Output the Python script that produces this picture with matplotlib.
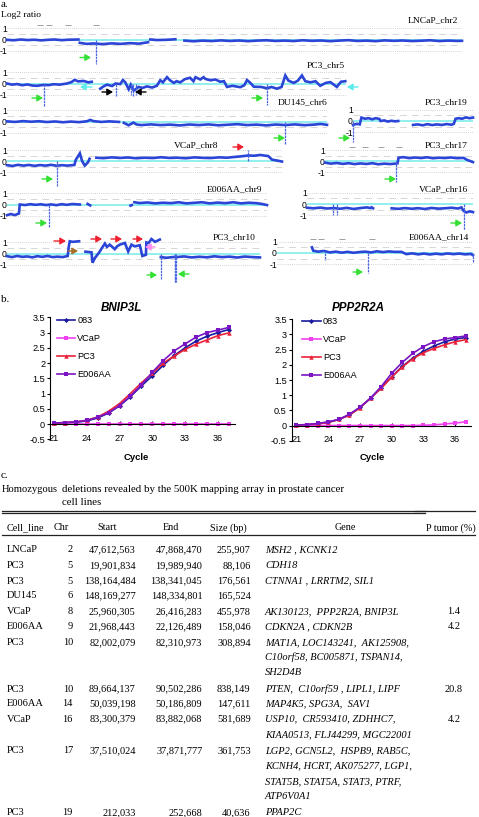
import numpy as np
import matplotlib
matplotlib.use('Agg')
import matplotlib.pyplot as plt

W, H = 479, 817

# a. copy number tracks, x = % along the plotted chromosome, None = gap
chr2_x = [0,1.5,3,4.5,6,7.5,9,10.5,12,13.5,15.7,None,16,17.5,19,21,23,25,27,29,31,None,31.5,33,35,37,None,39,41,43,45,47,49,51,53,55,57,59,61,63,65,67,69,71,73,75,77,79,81,83,85,87,89,91,93,95,97,99,100]
chr2_y = [-.03,-.07,0,-.05,-.02,-.08,-.03,0,-.06,-.02,0,None,-.3,-.4,-.36,-.42,-.35,-.4,-.33,-.38,-.25,None,0,-.05,-.03,.02,None,-.1,-.16,-.1,-.14,-.08,-.13,-.09,-.15,-.1,-.07,-.13,-.1,-.14,-.07,-.12,-.09,-.15,-.1,-.06,-.13,-.1,-.15,-.08,-.12,-.09,-.14,-.11,-.07,-.14,-.1,-.13,-.12]
chr2_spike_x = [19.5]
chr2_spike_y = [-2.2]
chr2_cnv_x = [7.2,9.3,13.4,19.5]

chr5_x = [0,1.5,3,4.5,6,7.5,8.9,10.8,12.3,13.8,15.5,17.7,19,20,21,22.6,24,25,None,27.5,28.5,29.5,31,32,33.4,34.2,34.9,35.9,36.5,37.4,38.8,40,41.3,42.8,44.2,45.2,46,47.2,48,49.2,50,51.1,52.5,54,55,55.6,57,58,58.5,60,61.5,62.9,64,64.9,66.5,68.8,70,70.8,71.8,72.8,75,76.7,78,79.6,81,82.1,83,84.6,85.8,87,88,89.5,91,92.4,94,95.4,96.4,97.3,98.5,99.8]
chr5_y = [0,-.1,-.05,-.15,-.08,-.18,-.2,-.12,-.14,-.06,-.1,0,.12,.32,.18,.22,.1,.15,None,-.45,-.25,-.1,-.22,0,-.05,.3,.1,-.5,-.1,-.62,-.3,-.38,-.25,-.35,-.2,.28,.1,.55,.3,.05,.2,.1,.38,.5,.2,.55,.35,.55,.4,.28,.35,.15,.2,-.3,-.2,-.32,-.15,.3,.05,-.28,-.3,-.42,-.3,-.45,-.3,.7,.25,.05,.25,.7,.2,.1,.2,-.2,.05,.12,-.1,-.3,.15,.2]
chr5_spike_x = [10.8,32.3,36.5,37.2,38,76.7]
chr5_spike_y = [-2,-1.1,-1,-1.1,-1,-1.9]

chr6_x = [0,2.5,5,7.5,10,12.5,15,17.5,20,22.5,25,26,27,29.5,32,35,None,36.5,38,39.5,40.5,42,45,48,51,54,57,60,63,66,69,72,75,78,81,84,87,90,93,96,98,100]
chr6_y = [.03,-.02,.05,0,.04,-.03,.02,-.05,.01,-.04,.04,.16,.05,-.02,.03,-.02,None,-.1,-.32,-.08,-.25,-.3,-.24,-.3,-.26,-.33,-.25,-.3,-.24,-.32,-.27,-.22,-.3,-.26,-.33,-.25,-.3,-.24,-.31,-.26,-.2,-.28]
chr6_spike_x = [87]
chr6_spike_y = [-2]

chr19_x = [0,3,5.6,7,10,13,16,19,22,23,26,29,32,35,37.7,None,50,54,58,62,66,70,74,78,82,84,85.5,88,91,94,97,100]
chr19_y = [-.35,-.25,-.3,.3,.2,.25,.15,.25,.18,0,.05,-.05,.02,-.03,0,None,-.35,-.3,-.38,-.28,-.36,-.3,-.35,-.27,-.33,-.25,.2,.25,.2,.32,.25,.3]
chr19_spike_x = [0]
chr19_spike_y = [-1.9]

chr8_x = [0,2,4,6,8,10,12,14,16,18,20,22,24.5,25,26.5,27.3,28.3,29.5,30,None,32.5,35,38,41,44,47,50,53,56,59,62,65,68,71,74,77,80,82.4,85,87.8,90,92,94,95,96.4,98,100]
chr8_y = [-.38,-.45,-.35,-.42,-.36,-.44,-.37,-.42,-.35,-.43,-.38,-.42,-.36,.1,.7,0,-.42,-.1,.2,None,.3,.26,.33,.28,.32,.25,.3,.27,.34,.28,.3,.25,.33,.29,.27,.33,.3,.36,.42,.5,.48,.55,.48,.45,.12,.05,-.05]
chr8_spike_x = [18,87.8]
chr8_spike_y = [-2.3,1]

chr17_x = [0,4,8,12,16,20,24,28,32,36,40,44,49,49.7,53,57,61,65,69,73,77,81,85,89,93.7,96,100]
chr17_y = [-.15,-.24,-.18,-.26,-.2,-.28,-.22,-.27,-.2,-.3,-.24,-.28,-.22,.3,.35,.26,.32,.27,.34,.25,.3,.27,.32,.26,.28,.1,-.1]
chr17_spike_x = [47.9]
chr17_spike_y = [-1.9]
chr17_cnv_x = [18,27,38,50]

chr9_x = [0,1.5,3,4.6,4.9,7,9,11,13,15,17,19,21,23,25,28,None,31,32,None,47.5,48,None,49,51,54,57,60,63,66,69,72,75,78,81,84,87,90,93,96,98,100]
chr9_y = [-.95,-.85,-.95,-.8,0,-.05,.03,-.03,.02,-.05,.01,-.06,.03,-.03,.04,0,None,.05,-.08,None,-.1,-.05,None,.2,.13,.18,.1,.16,.12,.2,.1,.15,.2,.1,.17,.12,.2,.1,.16,.12,.05,-.05]
chr9_spike_x = [16]
chr9_spike_y = [-2]

chr16_x = [0,4,8,12,16,20,24,28,32,36,38,None,39,39.8,None,51,55,59,63,67,71,75,79,83,87,91,93,94.4,96,98,100]
chr16_y = [-.33,-.38,-.32,-.4,-.36,-.42,-.34,-.44,-.36,-.3,-.35,None,-.3,-.38,None,-.38,-.43,-.36,-.42,-.37,-.44,-.35,-.41,-.38,-.33,-.4,-.3,-.62,-.75,-.65,-.72]
chr16_spike_x = [15.7,18,94.4]
chr16_spike_y = [-1,-1,-2.3]

chr10_x = [0,2,4,6,8,10,12,14,16,18,20,22,24,24.4,24.8,26,28.5,None,31,33.4,33.8,34.7,36.7,37.5,38.7,39.5,40.6,42.6,43.5,44.6,46.6,47.9,49.2,50.5,52.5,53.5,54.9,55.1,56,57.1,58.5,60.4,None,60.8,63,66.4,None,67,70,73,76,79,82,85,88,91,94,97,100]
chr10_y = [-.22,-.3,-.2,-.28,-.24,-.32,-.22,-.28,-.2,-.3,-.26,-.3,-.2,.6,1.1,1.05,1.1,None,.18,.12,-.8,-.4,.2,.5,.9,.6,.8,.4,.65,.8,.95,.2,.8,.65,.75,-.2,-.1,1,.95,1.3,1.05,1.25,None,-.3,-.36,-.28,None,-.3,-.24,-.33,-.27,-.32,-.23,-.3,-.26,-.34,-.25,-.3,-.33]
chr10_spike_x = [60.8,66.4,66.6,66.8]
chr10_spike_y = [-2.2,-2.5,-2.5,-2.5]

chr14_x = [17.8,18.5,21,24,27,30,33,36,39,42,45,48,51,54,57,60,63.5,66,69,72,75,78,81,84,87,90,93,96,99,100]
chr14_y = [.5,.2,.12,.18,.05,.12,.03,.1,.02,.08,.12,.05,.15,.08,.14,.1,.1,-.1,-.03,-.12,-.05,-.13,-.06,-.12,-.04,-.1,-.05,-.12,-.08,-.2]
chr14_spike_x = [24.6,46.6,100]
chr14_spike_y = [-.6,-1.8,-.8]
chr14_cnv_x = [18.5,22.5,33,48.5]

# b. real time PCR curves
cycles = list(range(21, 38))
bnip_083 = [.02,.04,.06,.1,.2,.36,.6,.9,1.25,1.58,1.93,2.25,2.5,2.72,2.88,3.0,3.1]
bnip_vcap = [0,0,0,0,0,0,0,0,0,0,0,0,0,0,0,0,0]
bnip_pc3 = [.03,.05,.07,.12,.23,.42,.67,1.0,1.35,1.66,2.0,2.23,2.45,2.62,2.76,2.9,2.99]
bnip_e006 = [.03,.05,.07,.12,.22,.37,.6,.92,1.28,1.7,2.08,2.4,2.63,2.85,3.0,3.08,3.17]
ppp_083 = [.01,.03,.06,.11,.2,.35,.6,.9,1.25,1.6,1.95,2.22,2.45,2.62,2.76,2.85,2.9]
ppp_vcap = [0,0,0,0,0,0,0,0,0,0,0,0,.01,.02,.05,.08,.12]
ppp_pc3 = [.01,.03,.05,.1,.2,.34,.58,.9,1.22,1.6,1.93,2.2,2.4,2.54,2.66,2.76,2.83]
ppp_e006 = [.02,.03,.07,.12,.2,.37,.6,.9,1.28,1.72,2.08,2.38,2.6,2.76,2.85,2.9,2.95]
line_names = ['083', 'VCaP', 'PC3', 'E006AA']
y_ticks = [-.5, 0, .5, 1, 1.5, 2, 2.5, 3, 3.5]
y_tick_labels = ['-0.5', '0', '0.5', '1', '1.5', '2', '2.5', '3', '3.5']

# c. table
col_cell = ['LNCaP','PC3','PC3','DU145','VCaP','E006AA','PC3','PC3','E006AA','VCaP','PC3','PC3']
col_chr = ['2','5','5','6','8','9','10','10','14','16','17','19']
col_start = ['47,612,563','19,901,834','138,164,484','148,169,277','25,960,305','21,968,443','82,002,079','89,664,137','50,039,198','83,300,379','37,510,024','212,033']
col_end = ['47,868,470','19,989,940','138,341,045','148,334,801','26,416,283','22,126,489','82,310,973','90,502,286','50,186,809','83,882,068','37,871,777','252,668']
col_size = ['255,907','88,106','176,561','165,524','455,978','158,046','308,894','838,149','147,611','581,689','361,753','40,636']
col_ptumor = ['','','','','1.4','4.2','','20.8','','4.2','','']
col_gene = [
    ['MSH2 , KCNK12'],
    ['CDH18'],
    ['CTNNA1 , LRRTM2, SIL1'],
    [''],
    ['AK130123,  PPP2R2A, BNIP3L'],
    ['CDKN2A , CDKN2B'],
    ['MAT1A, LOC143241,  AK125908,', 'C10orf58, BC005871, TSPAN14,', 'SH2D4B'],
    ['PTEN,  C10orf59 , LIPL1, LIPF'],
    ['MAP4K5, SPG3A,  SAV1'],
    ['USP10,  CR593410, ZDHHC7,', 'KIAA0513, FLJ44299, MGC22001'],
    ['LGP2, GCN5L2,  HSPB9, RAB5C,', 'KCNH4, HCRT, AK075277, LGP1,', 'STAT5B, STAT5A, STAT3, PTRF,', 'ATP6V0A1'],
    ['PPAP2C'],
]
row_px = [550, 566, 581, 596, 611.3, 626.7, 642.3, 689, 704, 719, 750.7, 812.7]
gene_line_px = 15.3

SERIF = 'Liberation Serif'
SANS = 'Liberation Sans'
plt.rcParams['font.family'] = SERIF

fig = plt.figure(figsize=(W / 100, H / 100), dpi=100)
ov = fig.add_axes([0, 0, 1, 1], zorder=5)
ov.set_xlim(0, W)
ov.set_ylim(H, 0)
ov.axis('off')


def track(name, lx, ly, x0, x1, y_zero, y_unit, xs, ys, sx, sy, cnv=None, cnv_y=1.28):
    top = y_zero - 1.5 * y_unit
    bot = y_zero + 2.7 * y_unit
    ax = fig.add_axes([x0 / W, 1 - bot / H, (x1 - x0) / W, (bot - top) / H])
    ax.patch.set_alpha(0)
    ax.set_xlim(0, 100)
    ax.set_ylim(-2.7, 1.5)
    for s in ax.spines.values():
        s.set_visible(False)
    ax.set_xticks([])
    ax.set_yticks([1, 0, -1])
    ax.set_yticklabels(['1', '0', '-1'], fontsize=6.2, fontfamily=SANS)
    ax.tick_params(axis='y', length=0, pad=0)
    ax.hlines([1, -1], 0, 100, color='#c4c4c4', lw=.6, linestyles=(0, (1, 1.5)))
    ax.hlines([.5, -.5], 0, 100, color='#d0d0d0', lw=.6, linestyles=(0, (8, 6)))
    ax.axhline(0, color='#80ecec', lw=1.2)
    ax.plot(np.array(xs, dtype=float), np.array(ys, dtype=float), color='#2b45d6', lw=1.9, solid_joinstyle='miter', clip_on=False)
    ax.vlines(sx, 0, sy, color='#4a66e0', lw=.9, linestyles=(0, (2, .6)), clip_on=False)
    if cnv:
        ax.plot(cnv, [cnv_y] * len(cnv), '_', color='#909090', ms=4.5, mew=.6)
    ov.text(lx, ly, name, fontsize=6.8, va='center', ha='left')


track('LNCaP_chr2', 408, 20, 7, 462, 39.5, 11, chr2_x, chr2_y, chr2_spike_x, chr2_spike_y, chr2_cnv_x, 1.3)
track('PC3_chr5', 307, 65, 7, 346, 83.5, 11.5, chr5_x, chr5_y, chr5_spike_x, chr5_spike_y)
track('DU145_chr6', 278, 102, 7, 327, 121.7, 11.2, chr6_x, chr6_y, chr6_spike_x, chr6_spike_y)
track('PC3_chr19', 425, 102, 353, 473, 121, 11.3, chr19_x, chr19_y, chr19_spike_x, chr19_spike_y)
track('VCaP_chr8', 174, 145.7, 7, 282, 161, 11, chr8_x, chr8_y, chr8_spike_x, chr8_spike_y)
track('PC3_chr17', 425, 145.7, 325, 473, 161, 11, chr17_x, chr17_y, chr17_spike_x, chr17_spike_y, chr17_cnv_x, 1.24)
track('E006AA_chr9', 207, 189, 7, 267, 204.5, 11.2, chr9_x, chr9_y, chr9_spike_x, chr9_spike_y)
track('VCaP_chr16', 419, 189, 307, 473, 204, 11.3, chr16_x, chr16_y, chr16_spike_x, chr16_spike_y)
track('PC3_chr10', 213, 237.7, 7, 260, 253.7, 11.3, chr10_x, chr10_y, chr10_spike_x, chr10_spike_y)
track('E006AA_chr14', 409, 237.7, 277, 473, 253, 11.3, chr14_x, chr14_y, chr14_spike_x, chr14_spike_y, chr14_cnv_x, 1.27)

# arrows on the tracks
GREEN, CYAN, RED, BROWN, PINK = '#35e035', '#5cecec', '#ee2030', '#a8702a', '#ff8cf0'
arrows = [
    (80, 91, 57.5, GREEN), (32, 43, 98, GREEN), (102, 113, 92, 'black'), (146, 135, 92, 'black'),
    (92, 80, 87, CYAN), (252, 263, 98, GREEN), (358, 347, 87, CYAN), (274, 285, 138, GREEN),
    (339, 350, 138, GREEN), (233, 244, 147, RED), (42, 53, 179, GREEN), (385, 396, 179, GREEN),
    (36, 47, 223, GREEN), (451, 462, 223, GREEN), (54, 66, 241, RED), (91, 102, 239, RED),
    (111, 122, 239, RED), (133, 143, 239, RED), (147, 157, 275, GREEN), (189, 178, 274, GREEN),
    (68, 78, 251, BROWN), (155, 145, 247, PINK), (353, 363, 272, GREEN),
]
for a0, a1, ay, c in arrows:
    ov.annotate('', xy=(a1, ay), xytext=(a0, ay),
                arrowprops=dict(arrowstyle='-|>,head_width=.2,head_length=.34', color=c, lw=1, shrinkA=0, shrinkB=0))

ov.text(1, 4, 'a.', fontsize=8, va='center')
ov.text(1, 15, 'Log2 ratio', fontsize=6.8, va='center')
ov.text(1, 300, 'b.', fontsize=8, va='center')
ov.text(1, 475, 'c.', fontsize=8, va='center')


def qpcr(title, px_l, px_r, px_top, px_bot, xl, xr, series, tx, cx, leg_x, leg_y):
    ax = fig.add_axes([px_l / W, 1 - px_bot / H, (px_r - px_l) / W, (px_bot - px_top) / H])
    ax.patch.set_alpha(0)
    styles = [('#1a1aa0', 'D', 2.6), ('#f040f0', 's', 3), ('#ea2038', '^', 3.2), ('#7a14c4', 's', 2.6)]
    for vals, name, (c, m, ms) in zip(series, line_names, styles):
        ax.plot(cycles, vals, color=c, marker=m, ms=ms, lw=1.2, mew=0, label=name)
    ax.set_xlim(xl, xr)
    ax.set_ylim(-.5, 3.5)
    ax.spines['top'].set_visible(False)
    ax.spines['right'].set_visible(False)
    ax.spines['bottom'].set_position(('data', 0))
    ax.set_yticks(y_ticks)
    ax.set_yticklabels(y_tick_labels, fontsize=6.6, fontfamily=SANS)
    ax.set_xticks(cycles[::3])
    ax.set_xticklabels([str(c) for c in cycles[::3]], fontsize=6.6, fontfamily=SANS)
    ax.tick_params(axis='y', direction='out', length=2, width=.8, pad=1.5)
    ax.tick_params(axis='x', direction='in', length=2, width=.8, pad=7)
    ax.legend(loc='upper left', bbox_to_anchor=(leg_x, leg_y), frameon=False,
              labelspacing=.98, handlelength=2, handletextpad=.25, borderpad=0,
              borderaxespad=0, prop={'family': SANS, 'size': 6.6})
    ov.text(tx, 307.7, title, fontsize=8.4, family=SANS, style='italic', weight='bold', ha='center', va='center')
    ov.text(cx, 457, 'Cycle', fontsize=6.8, family=SANS, weight='bold', ha='center', va='center')


qpcr('BNIP3L', 50, 235, 317.3, 439.3, 20.65, 37.55, [bnip_083, bnip_vcap, bnip_pc3, bnip_e006], 121.7, 136.7, .036, 1.01)
qpcr('PPP2R2A', 291.7, 471, 319.3, 440.7, 20.55, 37.5, [ppp_083, ppp_vcap, ppp_pc3, ppp_e006], 358.7, 372, .059, 1.02)

# table c
ov.text(2, 489, 'Homozygous', fontsize=7.6, va='center')
ov.text(62, 489, 'deletions revealed by the 500K mapping array in prostate cancer', fontsize=7.8, va='center')
ov.text(62, 502, 'cell lines', fontsize=7.8, va='center')
ov.plot([2, 425], [510.6, 510.6], color='#222222', lw=.9)
ov.plot([2, 425], [513.4, 513.4], color='#222222', lw=.9)
ov.plot([415, 475], [511.4, 511.4], color='#222222', lw=.9)
ov.plot([2, 475], [535, 535], color='#222222', lw=.9)
headers = [('Cell_line', 7, 'left'), ('Chr', 61, 'center'), ('Start', 107, 'center'), ('End', 171, 'center'),
           ('Size (bp)', 228.7, 'center'), ('Gene', 345, 'center'), ('P tumor (%)', 450.5, 'center')]
for t, hx, ha in headers:
    ov.text(hx, 527.7, t, fontsize=7.3, ha=ha, va='center')
for i, py in enumerate(row_px):
    ov.text(6.5, py, col_cell[i], fontsize=7.5, va='center')
    ov.text(73, py, col_chr[i], fontsize=7.5, va='center', ha='right')
    ov.text(135.7, py, col_start[i], fontsize=7.5, va='center', ha='right')
    ov.text(202.3, py, col_end[i], fontsize=7.5, va='center', ha='right')
    ov.text(250.7, py, col_size[i], fontsize=7.5, va='center', ha='right')
    ov.text(454, py, col_ptumor[i], fontsize=7.5, va='center', ha='center')
    for j, g in enumerate(col_gene[i]):
        ov.text(265, py + j * gene_line_px, g, fontsize=7.5, va='center', style='italic')

fig.savefig('out.png', dpi=100)
